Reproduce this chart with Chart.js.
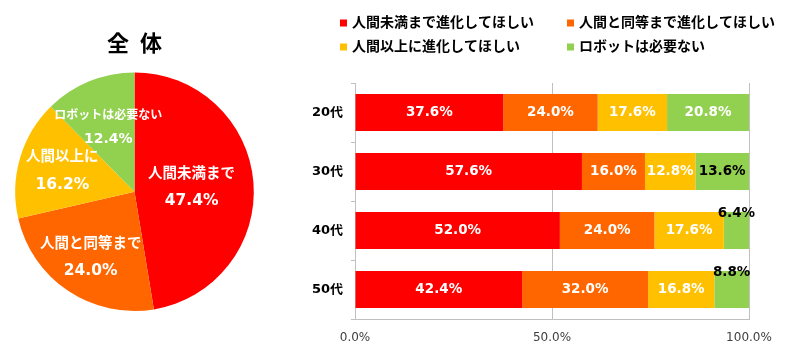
<!DOCTYPE html>
<html><head><meta charset="utf-8">
<script src="https://cdn.jsdelivr.net/npm/chart.js@4"></script>
<style>
html,body{margin:0;padding:0;background:#fff;width:800px;height:352px;overflow:hidden}
#pie{position:absolute;left:0;top:0}
#bar{position:absolute;left:280px;top:0}
</style></head><body>
<canvas id="pie" width="270" height="352"></canvas>
<canvas id="bar" width="520" height="352"></canvas>
<script>
const pieTitle = '全\u2002体';
const pieLabels = ['人間未満まで', '人間と同等まで', '人間以上に', 'ロボットは必要ない'];
const pieValues = [47.4, 24.0, 16.2, 12.4];

const ageGroups = ['20代', '30代', '40代', '50代'];
const seriesNames = ['人間未満まで進化してほしい', '人間と同等まで進化してほしい', '人間以上に進化してほしい', 'ロボットは必要ない'];
const lessThanHuman = [37.6, 57.6, 52.0, 42.4];
const equalToHuman  = [24.0, 16.0, 24.0, 32.0];
const beyondHuman   = [17.6, 12.8, 17.6, 16.8];
const noRobots      = [20.8, 13.6, 6.4, 8.8];
const xTicks = [0, 50, 100];

const colors = ['#FF0000', '#FF6600', '#FFC000', '#92D050'];
const FONT = '"DejaVu Sans", "Noto Sans CJK JP", sans-serif';

Chart.defaults.font.family = FONT;

const pieLabelPlugin = {
  id: 'pieLabels',
  afterDatasetsDraw(chart) {
    const ctx = chart.ctx;
    const meta = chart.getDatasetMeta(0);
    const fracs = [0.48, 0.66, 0.63, 0.58];
    meta.data.forEach((el, i) => {
      const p = el.getProps(['x', 'y', 'startAngle', 'endAngle', 'outerRadius'], true);
      const a = (p.startAngle + p.endAngle) / 2;
      const r = p.outerRadius * fracs[i];
      const cx = p.x + Math.cos(a) * r;
      const cy = p.y + Math.sin(a) * r;
      const small = i === 3;
      ctx.save();
      ctx.fillStyle = '#fff';
      ctx.textAlign = 'center';
      ctx.textBaseline = 'middle';
      ctx.font = 'bold ' + (small ? 12 : 14.5) + 'px ' + FONT;
      ctx.fillText(pieLabels[i], cx, cy - (small ? 12 : 13));
      ctx.font = 'bold ' + (small ? 14 : 15.5) + 'px ' + FONT;
      ctx.fillText(chart.data.datasets[0].data[i].toFixed(1) + '%', cx, cy + (small ? 12 : 14));
      ctx.restore();
    });
  }
};

new Chart(document.getElementById('pie'), {
  type: 'pie',
  data: {
    labels: pieLabels,
    datasets: [{ data: pieValues, backgroundColor: colors, borderWidth: 0 }]
  },
  options: {
    responsive: false, animation: false, devicePixelRatio: 1,
    layout: { padding: { left: 15, right: 16, bottom: 41 } },
    plugins: {
      legend: { display: false },
      tooltip: { enabled: false },
      title: {
        display: true, text: pieTitle, color: '#000',
        font: { family: '"Noto Sans CJK JP", sans-serif', size: 22, weight: 'bold' },
        padding: { top: 29, bottom: 17 }
      }
    }
  },
  plugins: [pieLabelPlugin]
});

const barLabelPlugin = {
  id: 'barLabels',
  afterDatasetsDraw(chart) {
    const ctx = chart.ctx;
    chart.data.datasets.forEach((ds, di) => {
      const meta = chart.getDatasetMeta(di);
      meta.data.forEach((el, i) => {
        const v = ds.data[i];
        const p = el.getProps(['x', 'y', 'base', 'height'], true);
        const cx = (p.x + p.base) / 2;
        let cy = p.y;
        if (v < 10) cy = p.y - p.height / 2 + 2;
        ctx.save();
        ctx.font = 'bold 13.5px ' + FONT;
        ctx.fillStyle = (di === 3 && v < 15) ? '#000' : '#fff';
        ctx.textAlign = 'center';
        ctx.textBaseline = 'middle';
        ctx.fillText(v.toFixed(1) + '%', cx, cy);
        ctx.restore();
      });
    });
  }
};

const legendPlugin = {
  id: 'gridLegend',
  afterDraw(chart) {
    const ctx = chart.ctx;
    const colX = [60, 287];
    const rowY = [23, 47];
    chart.data.datasets.forEach((ds, i) => {
      const x = colX[i % 2];
      const y = rowY[Math.floor(i / 2)];
      ctx.save();
      ctx.fillStyle = ds.backgroundColor;
      ctx.fillRect(x, y - 3.5, 7, 7);
      ctx.fillStyle = '#000';
      ctx.font = 'bold 14px ' + FONT;
      ctx.textAlign = 'left';
      ctx.textBaseline = 'middle';
      ctx.fillText(ds.label, x + 12, y);
      ctx.restore();
    });
  }
};

const seriesData = [lessThanHuman, equalToHuman, beyondHuman, noRobots];

new Chart(document.getElementById('bar'), {
  type: 'bar',
  data: {
    labels: ageGroups,
    datasets: seriesNames.map((name, i) => ({
      label: name,
      data: seriesData[i],
      backgroundColor: colors[i],
      borderWidth: 0,
      categoryPercentage: 1,
      barPercentage: 0.63
    }))
  },
  options: {
    indexAxis: 'y',
    responsive: false, animation: false, devicePixelRatio: 1,
    layout: { padding: { top: 83, right: 51, left: 0, bottom: 0 } },
    plugins: { legend: { display: false }, tooltip: { enabled: false } },
    scales: {
      x: {
        stacked: true, min: 0, max: 100,
        afterBuildTicks: s => { s.ticks = xTicks.map(v => ({ value: v })); },
        ticks: {
          callback: v => Number(v).toFixed(1) + '%',
          color: '#404040', font: { size: 12 }, padding: 12
        },
        grid: { color: '#C0C0C0', drawTicks: false },
        border: { color: '#C0C0C0' },
        afterFit: s => { s.height = 33; }
      },
      y: {
        stacked: true,
        grid: { display: true, drawOnChartArea: false, offset: true, tickLength: 4, color: '#C0C0C0' },
        border: { color: '#C0C0C0' },
        ticks: { color: '#000', font: { size: 13, weight: 'bold' }, padding: 8 },
        afterFit: s => { s.width = 75; }
      }
    }
  },
  plugins: [barLabelPlugin, legendPlugin]
});
</script>
</body></html>
